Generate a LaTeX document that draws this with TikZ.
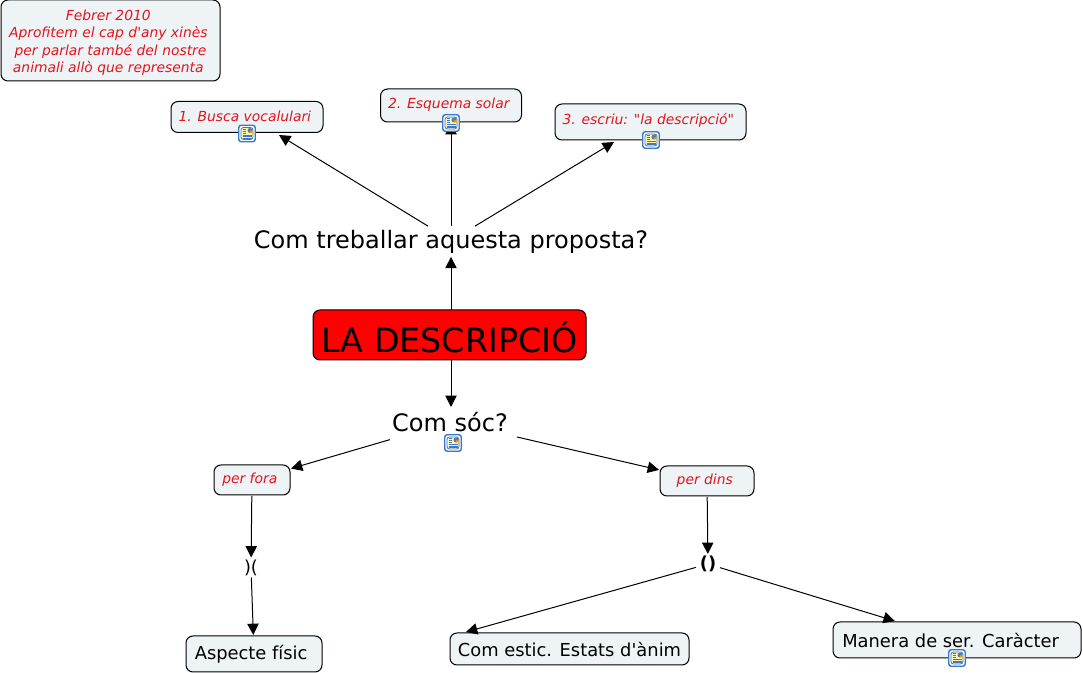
\documentclass[tikz,border=0pt]{standalone}
\usepackage{fontspec}
\setmainfont{DejaVu Sans}[Ligatures=TeXOff]
\usetikzlibrary{arrows.meta}
\def\px{0.75pt}
\newcommand{\trail}{\ \mbox{}}
\definecolor{boxfill}{HTML}{EEF3F6}
\definecolor{notered}{HTML}{E2141E}
\definecolor{iconblue}{HTML}{3C78C8}
\definecolor{iconpage}{HTML}{FDF6B4}
\begin{document}
\begin{tikzpicture}[x=0.75pt, y=-0.75pt,
		box/.style={draw, fill=boxfill, rounded corners=7*\px, line width=\px, inner sep=0pt, outer sep=\px},
		note/.style={box, text=notered, font=\itshape\fontsize{10.4}{13.1}\selectfont},
		concept/.style={box, font=\fontsize{13.4}{16}\selectfont},
		plain/.style={inner sep=0pt, outer sep=0pt},
		conn/.style={-{Triangle[length=8.5pt,width=8.5pt]}, line width=0.75pt},
		icon/.style={draw=iconblue, fill=white, rounded corners=2.5*\px, line width=1.1pt, minimum size=16.5*\px, inner sep=0pt,
			path picture={
				\coordinate (ic) at (path picture bounding box.center);
				\fill[iconpage] ([shift={(-6*\px,-6*\px)}]ic) rectangle ([shift={(6*\px,6*\px)}]ic);
				\draw[line width=0.6pt] ([shift={(-6*\px,-6*\px)}]ic) rectangle ([shift={(6*\px,6*\px)}]ic);
				\fill[iconblue!60!gray] ([shift={(0.5*\px,0.5*\px)}]ic) rectangle ([shift={(5.5*\px,5.5*\px)}]ic);
				\fill[orange!80!yellow] ([shift={(3*\px,0.5*\px)}]ic) rectangle ([shift={(5.5*\px,2.5*\px)}]ic);
				\foreach \ly in {-4.5,-3,-1.5}
					\draw[line width=0.55pt] ([shift={(-4.5*\px,\ly*\px)}]ic) -- ([shift={(4.5*\px,\ly*\px)}]ic);
				\foreach \ly in {0.5,2.5,4.5}
					\draw[line width=0.55pt] ([shift={(-4.5*\px,\ly*\px)}]ic) -- ([shift={(-1*\px,\ly*\px)}]ic);
			}}]

	\useasboundingbox (0,0) rectangle (1083,673);

	% ===== nota =====
	\node[note, align=center, minimum width=219*\px, minimum height=81*\px] (febrer) at (110.5,40.5)
		{\rule{0pt}{10.9pt}Febrer 2010\trail\\Aprofitem el cap d'any xinès\trail\\\mbox{}\ per parlar també del nostre\trail\\animali allò que representa\trail};

	% ===== centre =====
	\node[draw, fill=red, rounded corners=7*\px, line width=\px, inner sep=0pt, outer sep=0pt, font=\fontsize{25}{28}\selectfont,
		minimum width=273*\px, minimum height=50*\px, text height=25.7pt, text depth=0pt] (desc) at (449.5,335) {LA DESCRIPCIÓ};
	\node[plain, font=\fontsize{18}{22}\selectfont, minimum width=396*\px, minimum height=24*\px, text height=16.6pt, text depth=4.2pt] (prop) at (451,240) {Com treballar aquesta proposta?};
	\node[plain, font=\fontsize{18}{22}\selectfont, minimum width=120*\px, minimum height=30*\px] (soc) at (450,422) {Com sóc?};

	% ===== passos =====
	\node[note, minimum width=152*\px, minimum height=31*\px, text height=8pt, text depth=1pt] (vocab) at (247,117) {1. Busca vocalulari\trail};
	\node[note, minimum width=141*\px, minimum height=33*\px, text height=8pt, text depth=4pt] (esquema) at (451,105.5) {2. Esquema solar\trail};
	\node[note, minimum width=191*\px, minimum height=36*\px, text height=8pt, text depth=4.5pt] (escriu) at (650.5,122) {3. escriu: "la descripció"\trail};

	% ===== per fora / per dins =====
	\node[note, minimum width=76*\px, minimum height=30*\px] (fora) at (252,480) {per fora\trail};
	\node[note, minimum width=94*\px, minimum height=30*\px] (dins) at (707,481) {per dins\trail};
	\node[plain, font=\fontsize{13.4}{16}\selectfont, minimum width=20*\px, minimum height=20*\px] (tanca) at (251,567.5) {)(};
	\node[plain, font=\bfseries\fontsize{13.4}{16}\selectfont, minimum width=24*\px, minimum height=20*\px] (obre) at (708,564) {()};
	\node[concept, minimum width=136*\px, minimum height=36*\px] (fisic) at (254,654) {Aspecte físic\trail};
	\node[concept, minimum width=239*\px, minimum height=32*\px] (estic) at (569.5,649) {Com estic. Estats d'ànim};
	\node[concept, minimum width=248*\px, minimum height=36*\px] (manera) at (957,640) {Manera de ser. Caràcter\hspace{9.5pt}\mbox{}};

	% ===== fletxes =====
	\draw[conn] ([xshift=-23*\px]prop.north) -- ([xshift=32*\px,yshift=-1.5*\px]vocab.south);
	\draw[conn] (prop) -- (esquema);
	\draw[conn] ([xshift=24*\px]prop.north) -- ([xshift=-36.5*\px,yshift=-\px]escriu.south);
	\draw[conn, shorten >=3*\px] (prop |- desc.north) -- (prop);
	\draw[conn] (prop |- desc.south) -- (prop |- soc.north);
	\draw[conn, shorten <=9.4*\px] (soc) -- (fora);
	\draw[conn] ([xshift=67*\px]soc.south) -- (dins);
	\draw[conn] (fora) -- (tanca);
	\draw[conn] (tanca) -- (fisic);
	\draw[conn] (dins) -- (obre);
	\draw[conn] (obre) -- ([xshift=17*\px]estic.north west);
	\draw[conn] (obre) -- (manera);

	% ===== icones =====
	\node[icon] (iconvocab) at (247,133.5) {};
	\node[icon] (iconesquema) at (451,123) {};
	\node[icon] (iconescriu) at (651,140) {};
	\node[icon] (iconsoc) at (453,443) {};
	\node[icon] (iconmanera) at (957,658) {};
\end{tikzpicture}
\end{document}
